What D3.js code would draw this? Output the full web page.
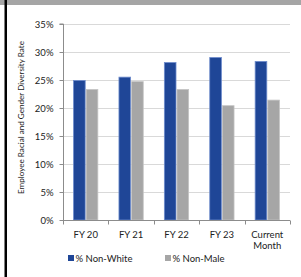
<!DOCTYPE html>
<html><head><meta charset="utf-8">
<script src="https://cdn.jsdelivr.net/npm/d3@7"></script>
<style>
html,body{margin:0;padding:0;background:#fff;}
svg{display:block;font-family:Lato,"Open Sans",sans-serif;}
</style></head>
<body>
<svg id="c" width="301" height="277"></svg>
<script>
const categories = [["FY 20"],["FY 21"],["FY 22"],["FY 23"],["Current","Month"]];
const catKeys = ["FY 20","FY 21","FY 22","FY 23","Current Month"];
const seriesNames = ["% Non-White","% Non-Male"];
const nonWhite = [25.0, 25.6, 28.2, 29.1, 28.4];
const nonMale = [23.4, 24.8, 23.4, 20.5, 21.5];
const yTicks = [0,5,10,15,20,25,30,35];
const colors = ["#1f4697","#a6a6a6"];
const strokes = ["#6d8bcc","#c4c4c4"];

const svg = d3.select("#c");
// top band & left border
svg.append("rect").attr("x",0).attr("y",0).attr("width",301).attr("height",5).attr("fill","#a5a5a5");
svg.append("rect").attr("x",4.5).attr("y",0).attr("width",2.5).attr("height",277).attr("fill","#000");

const x0 = 63, x1 = 290, yTop = 24, yBot = 220;
const x = d3.scaleBand().domain(catKeys).range([x0,x1]).paddingInner(0.443).paddingOuter(0.2215);
const xs = d3.scaleBand().domain(seriesNames).range([0,x.bandwidth()]);
const y = d3.scaleLinear().domain([0,35]).range([yBot,yTop]);

// gridlines
svg.append("g").selectAll("line").data(yTicks.filter(d=>d>0)).join("line")
  .attr("x1",x0).attr("x2",x1).attr("y1",d=>y(d)+0.5).attr("y2",d=>y(d)+0.5)
  .attr("stroke","#d9d9d9").attr("stroke-width",1);

// bars
const data = catKeys.map((k,i)=>({k, v:[nonWhite[i],nonMale[i]]}));
const g = svg.append("g");
data.forEach(d=>{
  d.v.forEach((v,j)=>{
    g.append("rect")
      .attr("x",x(d.k)+xs(seriesNames[j])+0.5)
      .attr("y",y(v)+0.5)
      .attr("width",xs.bandwidth()-1)
      .attr("height",yBot-y(v)-0.5)
      .attr("fill",colors[j]).attr("stroke",strokes[j]).attr("stroke-width",0.8);
  });
});

// y axis
const yAxis = d3.axisLeft(y).tickValues(yTicks).tickFormat(d=>d+"%").tickSize(4).tickPadding(6);
const ya = svg.append("g").attr("transform",`translate(${x0+0.5},0)`).call(yAxis);
ya.select(".domain").attr("stroke","#8c8c8c").attr("d",`M-4,${yTop}H0V${yBot}`);
ya.selectAll(".tick line").attr("stroke","#8c8c8c");
ya.selectAll("text").attr("font-size","9.5px").attr("fill","#222").attr("font-family","Lato,sans-serif");

// x axis
const xa = svg.append("g").attr("transform",`translate(0,${yBot+0.5})`);
xa.append("line").attr("x1",x0).attr("x2",x1).attr("stroke","#8c8c8c");
const bounds = d3.range(catKeys.length+1).map(i=>x0 + i*x.step());
xa.selectAll(".tk").data(bounds).join("line").attr("class","tk")
  .attr("x1",d=>Math.round(d)+0.5).attr("x2",d=>Math.round(d)+0.5).attr("y1",0).attr("y2",4).attr("stroke","#8c8c8c");
catKeys.forEach((k,i)=>{
  const t = xa.append("text").attr("text-anchor","middle")
    .attr("font-size","9.5px").attr("fill","#222")
    .attr("transform",`translate(${x(k)+x.bandwidth()/2},0)`);
  categories[i].forEach((line,li)=>{
    t.append("tspan").attr("x",0).attr("y",17+li*11).text(line);
  });
});

// y title
svg.append("text").attr("transform",`translate(24,117.5) rotate(-90)`)
  .attr("text-anchor","middle").attr("font-size","8.1px").attr("fill","#222")
  .text("Employee Racial and Gender Diversity Rate");

// legend
const legX = [68, 165];
seriesNames.forEach((n,j)=>{
  svg.append("rect").attr("x",legX[j]).attr("y",255).attr("width",6).attr("height",6).attr("fill",colors[j]);
  svg.append("text").attr("x",legX[j]+7.5).attr("y",261.5).attr("font-size","9.5px").attr("fill","#222").text(n);
});
</script>
</body></html>
